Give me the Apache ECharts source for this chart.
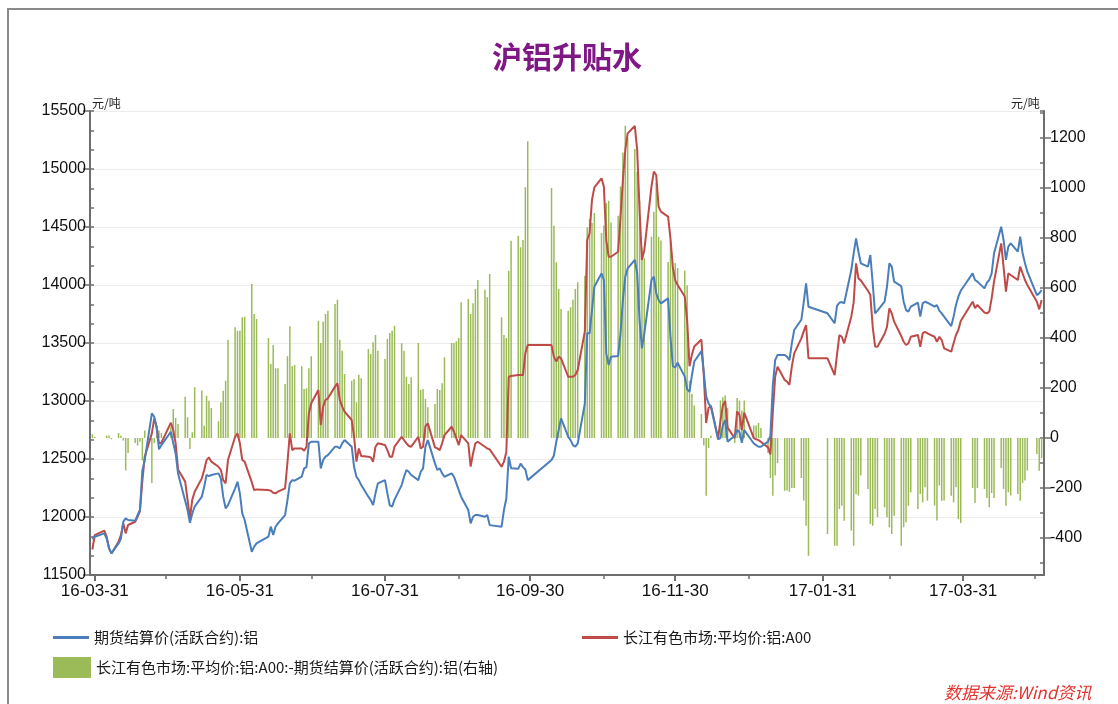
<!DOCTYPE html>
<html>
<head>
<meta charset="utf-8">
<title>沪铝升贴水</title>
<script src="https://cdn.jsdelivr.net/npm/echarts@6/dist/echarts.min.js"></script>
<style>
  html, body { margin: 0; padding: 0; background: #fff; }
  #main { width: 1118px; height: 704px; }
</style>
</head>
<body>
<div id="main"></div>
<script>
// 交易所休市日（工作日里不开盘的日子）
const holidays = [
  "2016-04-04", "2016-05-02", "2016-06-09", "2016-06-10", "2016-09-15", "2016-09-16",
  "2016-10-03", "2016-10-04", "2016-10-05", "2016-10-06", "2016-10-07",
  "2017-01-02", "2017-01-27", "2017-01-30", "2017-01-31", "2017-02-01", "2017-02-02",
  "2017-04-03", "2017-04-04", "2017-05-01"
];
const firstDay = [2016, 3, 31];
const lastDay = [2017, 5, 4];

// 期货结算价(活跃合约):铝 —— 每行一周
const futures = [
  11810, 11830,
  11859, 11815, 11730, 11686,
  11772, 11815, 11960, 11988, 11974,
  11968, 12017, 12060, 12400, 12490,
  12893, 12864, 12770, 12583, 12620,
  12735, 12635, 12549, 12376,
  12140, 12060, 11950, 12030, 12089,
  12175, 12261, 12362, 12353, 12362,
  12376, 12333, 12175, 12074, 12103,
  12247, 12304, 12204, 12031, 11974,
  11700, 11744, 11772,
  11830, 11917, 11844, 11916, 11945,
  12017, 12146, 12290, 12318, 12313,
  12347, 12419, 12430, 12635, 12649,
  12649, 12419, 12491, 12520, 12534,
  12606, 12606, 12592, 12635, 12663,
  12606, 12433, 12347, 12318, 12275,
  12175, 12146, 12103, 12204, 12290,
  12318, 12204, 12100, 12089, 12150,
  12275, 12347, 12405, 12390, 12362,
  12318, 12390, 12419, 12606, 12663,
  12462, 12405, 12419, 12376, 12347,
  12376, 12347, 12290, 12232, 12175,
  12060, 11945, 12002, 12017, 12017,
  12002, 12017, 11930,
  11916, 12060, 12160, 12520, 12420,
  12415, 12460, 12430, 12410, 12318,
  12491, 12530, 12649, 12750, 12850,
  12692, 12663, 12620, 12606, 12634,
  12980, 13583, 13583, 13784, 13985,
  14100, 14043, 13411, 13310, 13382,
  13388, 13583, 13871, 14072, 14143,
  14216, 14100, 13698, 13454, 13583,
  14043, 14072, 13928, 13871, 13842,
  13885, 13550, 13300, 13290, 13330,
  13210, 13100, 13080, 13220, 13340,
  13430, 13250, 13040, 12980, 12950,
  12670, 12680, 12790, 12835, 12650,
  12700, 12750, 12730, 12640, 12750,
  12634, 12620, 12606, 12606,
  12650, 12700, 13130, 13353, 13397,
  13397, 13382, 13353, 13497, 13612,
  13700, 13850, 14014, 13813,
  13756,
  13670, 13820, 13847, 13853, 13842,
  14129, 14273, 14402, 14287, 14187,
  14158, 14258, 14014, 13756, 13779,
  13856, 13985, 14187, 14158, 14029,
  13990, 13856, 13784, 13770, 13813,
  13847, 13727, 13842, 13856, 13847,
  13813, 13827, 13779, 13756, 13727,
  13646, 13727, 13827, 13899, 13950,
  14100, 14043, 14029,
  13971, 14020, 14043, 14100, 14273,
  14503, 14388, 14216, 14331, 14359,
  14287, 14417, 14273, 14187, 14115,
  13913, 13928, 13957
];

// 长江有色市场:平均价:铝:A00
const spot = [
  11720, 11844,
  11882, 11830, 11730, 11686,
  11787, 11844, 11945, 11859, 11931,
  11959, 12002, 12050, 12310, 12520,
  12721, 12850, 12780, 12635, 12640,
  12813, 12750, 12635, 12410,
  12305, 12150, 11990, 12150, 12218,
  12333, 12405, 12491, 12514, 12477,
  12433, 12405, 12318, 12290, 12491,
  12692, 12721, 12635, 12491, 12477,
  12300, 12232, 12238,
  12232, 12226, 12209, 12204, 12218,
  12247, 12470, 12721, 12577, 12591,
  12591, 12571, 12606, 12893, 12980,
  13095, 12793, 12951, 13009, 13023,
  13124, 13152, 13009, 12951, 12908,
  12836, 12692, 12477, 12591, 12525,
  12520, 12514, 12477, 12606, 12635,
  12620, 12577, 12520, 12520, 12606,
  12692, 12663, 12635, 12612, 12606,
  12692, 12590, 12606, 12784, 12807,
  12600, 12591, 12577, 12635, 12706,
  12778, 12735, 12678, 12620, 12706,
  12635, 12434, 12548, 12635, 12649,
  12606, 12591, 12583,
  12433, 12477, 12560, 13209, 13215,
  13224, 13224, 13224, 13411, 13482,
  13482, 13380, 13339, 13382, 13368,
  13209, 13209, 13209, 13224, 13267,
  13600, 14388, 14446, 14733, 14842,
  14920, 14848, 14388, 14244, 14244,
  14287, 14589, 14905, 15164, 15307,
  15371, 15164, 14646, 14216, 14302,
  14848, 14977, 14948, 14675, 14632,
  14589, 14400, 14150, 14040, 14000,
  13900, 13700, 13300, 13400, 13470,
  13530, 13220, 12810, 12940, 12960,
  12680, 12830, 12960, 13000, 12770,
  12680, 12910, 12880, 12750, 12900,
  12680, 12670, 12663, 12649,
  12600, 12540, 12900, 13210, 13296,
  13181, 13167, 13138, 13296, 13411,
  13540, 13600, 13655, 13368,
  13368,
  13224, 13400, 13569, 13554, 13497,
  13727, 13850, 14187, 14057, 14040,
  13950, 13913, 13640, 13470, 13468,
  13580, 13640, 13799, 13756, 13684,
  13560, 13511, 13483, 13497, 13554,
  13569, 13468, 13583, 13597, 13583,
  13554, 13511, 13554, 13526, 13454,
  13425, 13497, 13569, 13612, 13690,
  13856, 13800, 13828,
  13762, 13756, 13770, 13885, 14029,
  14359, 14158, 13942, 14100, 14086,
  14043, 14158, 14100, 14043, 13999,
  13856, 13790, 13870
];

// 长江有色市场:平均价:铝:A00 - 期货结算价(活跃合约):铝（右轴）
const spread = [
  15, 5,
  0, 10, 10, -5,
  20, 10, -10, -130, -60,
  -20, -30, -15, -90, 30,
  -180, -20, 10, 30, 20,
  45, 116, 80, 56,
  165, 83, -44, 23, 203,
  190, 49, 169, 149, 120,
  67, 143, 189, 229, 392,
  443, 429, 429, 483, 485,
  616, 496, 476,
  400, 296, 372, 279, 279,
  216, 327, 447, 287, 292,
  287, 196, 199, 279, 327,
  469, 380, 465, 496, 509,
  536, 553, 393, 349, 256,
  229, 236, 143, 253, 239,
  356, 336, 383, 412, 349,
  316, 396, 420, 429, 449,
  379, 349, 245, 216, 243,
  380, 192, 196, 156, 123,
  136, 196, 192, 219, 323,
  380, 380, 387, 400, 543,
  556, 496, 539, 596, 632,
  593, 563, 656,
  483, 412, 400, 669, 789,
  809, 763, 792, 1003, 1187,
  1000, 849, 703, 596, 516,
  509, 523, 553, 596, 623,
  649, 843, 876, 860, 900,
  820, 850, 940, 949, 862,
  889, 1006, 1142, 1249, 1200,
  1156, 1064, 948, 762, 719,
  805, 905, 1020, 804, 790,
  704, 790, 680, 700, 680,
  670, 610, 229, 176, 130,
  96, -30, -231, -40, 10,
  10, 150, 163, 170, 120,
  -20, 160, 150, 110, 150,
  50, 50, 60, 40,
  -60, -160, -231, -150, -100,
  -211, -210, -215, -200, -200,
  -160, -250, -351, -471,
  -384,
  -431, -431, -284, -271, -331,
  -371, -431, -224, -230, -150,
  -204, -344, -351, -284, -317,
  -277, -317, -357, -384, -311,
  -431, -357, -337, -271, -217,
  -284, -224, -257, -197, -251,
  -270, -330, -190, -251, -250,
  -231, -257, -197, -324, -340,
  -200, -260, -200,
  -204, -240, -277, -220, -240,
  -120, -204, -271, -217, -230,
  -224, -251, -180, -170, -130,
  -64, -131, -80
];

// 横轴标签（月末），以及所有月末刻度
const tickLabels = ["16-03-31", "16-05-31", "16-07-31", "16-09-30", "16-11-30", "17-01-31", "17-03-31"];
const monthEnds = [
  "16-03-31", "16-04-30", "16-05-31", "16-06-30", "16-07-31", "16-08-31", "16-09-30",
  "16-10-31", "16-11-30", "16-12-31", "17-01-31", "17-02-28", "17-03-31", "17-04-30"
];

const pad = n => (n < 10 ? "0" : "") + n;
const fmt = d => d.getFullYear() + "-" + pad(d.getMonth() + 1) + "-" + pad(d.getDate());

// 交易日序列（时间戳）
const tradeDays = [];
for (let d = new Date(firstDay[0], firstDay[1] - 1, firstDay[2]);
     d <= new Date(lastDay[0], lastDay[1] - 1, lastDay[2]);
     d.setDate(d.getDate() + 1)) {
  if (d.getDay() === 0 || d.getDay() === 6 || holidays.indexOf(fmt(d)) >= 0) continue;
  tradeDays.push(d.getTime());
}

// 刻度画在月末这一天的末尾
const tickTime = s => {
  const [y, m, d] = s.split("-").map(Number);
  return new Date(2000 + y, m - 1, d + 1).getTime();
};
const labelMap = {};
tickLabels.forEach(s => { labelMap[tickTime(s)] = s; });

const xMin = new Date(2016, 2, 30).getTime();
const xMax = new Date(2017, 4, 5).getTime();

const pairs = arr => tradeDays.map((t, i) => [t, arr[i] === undefined ? null : arr[i]]);

const NAME_F = "期货结算价(活跃合约):铝";
const NAME_S = "长江有色市场:平均价:铝:A00";
const NAME_D = "长江有色市场:平均价:铝:A00:-期货结算价(活跃合约):铝(右轴)";

const axisGray = "#6e6e6e";
const textFont = "'Liberation Sans', Arial, sans-serif";
const cjkFont = "'Noto Sans CJK SC', sans-serif";
const plain = v => String(v);

const chart = echarts.init(document.getElementById("main"));

chart.setOption({
  animation: false,
  backgroundColor: "#fff",
  grid: { left: 90, right: 74, top: 111, bottom: 129 },
  legend: [
    {
      data: [NAME_F], left: 48, top: 625, icon: "rect", itemWidth: 36, itemHeight: 3,
      selectedMode: false, textStyle: { fontSize: 15, color: "#1a1a1a", fontFamily: cjkFont }
    },
    {
      data: [NAME_S], left: 577, top: 625, icon: "rect", itemWidth: 36, itemHeight: 3,
      selectedMode: false, textStyle: { fontSize: 15, color: "#1a1a1a", fontFamily: cjkFont }
    },
    {
      data: [NAME_D], left: 48, top: 652, icon: "rect", itemWidth: 38, itemHeight: 21,
      selectedMode: false, textStyle: { fontSize: 15, color: "#1a1a1a", fontFamily: cjkFont }
    }
  ],
  xAxis: [
    {
      type: "value",
      position: "bottom",
      min: xMin,
      max: xMax,
      axisLine: { onZero: false, lineStyle: { color: axisGray, width: 2 } },
      axisTick: { customValues: tickLabels.map(tickTime), length: 6, lineStyle: { color: axisGray, width: 2 } },
      axisLabel: {
        customValues: tickLabels.map(tickTime),
        formatter: v => labelMap[v] || "",
        fontSize: 17, color: "#111", fontFamily: textFont, margin: 8
      },
      splitLine: { show: false }
    },
    {
      // 每个月末的短刻度
      type: "value",
      position: "bottom",
      min: xMin,
      max: xMax,
      axisLine: { show: false, onZero: false },
      axisTick: { customValues: monthEnds.map(tickTime), length: 4, lineStyle: { color: axisGray, width: 1.5 } },
      axisLabel: { show: false },
      splitLine: { show: false }
    }
  ],
  yAxis: [
    {
      type: "value",
      position: "left",
      min: 11500,
      max: 15500,
      interval: 500,
      axisLine: { show: true, onZero: false, lineStyle: { color: axisGray, width: 2 } },
      axisTick: { show: true, length: 7, lineStyle: { color: axisGray, width: 1.5 } },
      axisLabel: { fontSize: 16, color: "#111", fontFamily: textFont, margin: 4, formatter: plain },
      splitLine: { show: true, lineStyle: { color: "#ececec", width: 1 } }
    },
    {
      type: "value",
      position: "right",
      min: -548,
      max: 1308,
      splitNumber: 9,
      axisLine: { show: true, onZero: false, lineStyle: { color: axisGray, width: 2 } },
      axisTick: { show: true, length: 7, lineStyle: { color: axisGray, width: 1.5 } },
      axisLabel: {
        fontSize: 16, color: "#111", fontFamily: textFont, margin: 6,
        showMinLabel: false, showMaxLabel: false, formatter: plain
      },
      splitLine: { show: false }
    },
    {
      // 左轴内侧小刻度
      type: "value",
      position: "left",
      min: 11500,
      max: 15500,
      interval: 500 / 3,
      axisLine: { show: false, onZero: false },
      axisTick: { show: true, inside: true, length: 4, lineStyle: { color: axisGray, width: 1.5 } },
      axisLabel: { show: false },
      splitLine: { show: false }
    },
    {
      // 右轴内侧小刻度
      type: "value",
      position: "right",
      min: -548,
      max: 1308,
      splitNumber: 18,
      axisLine: { show: false, onZero: false },
      axisTick: { show: true, inside: true, length: 4, lineStyle: { color: axisGray, width: 1.5 } },
      axisLabel: { show: false },
      splitLine: { show: false }
    }
  ],
  series: [
    {
      name: NAME_D,
      type: "bar",
      yAxisIndex: 1,
      barWidth: 1.5,
      itemStyle: { color: "#9bbb59" },
      data: pairs(spread),
      z: 1
    },
    {
      name: NAME_F,
      type: "line",
      yAxisIndex: 0,
      showSymbol: false,
      connectNulls: true,
      lineStyle: { color: "#4a7ebb", width: 2 },
      itemStyle: { color: "#4a7ebb" },
      data: pairs(futures),
      z: 3
    },
    {
      name: NAME_S,
      type: "line",
      yAxisIndex: 0,
      showSymbol: false,
      connectNulls: true,
      lineStyle: { color: "#be4b48", width: 2 },
      itemStyle: { color: "#be4b48" },
      data: pairs(spot),
      z: 2
    }
  ],
  graphic: [
    {
      type: "rect",
      shape: { x: 8, y: 9, width: 1300, height: 900 },
      style: { fill: null, stroke: "#8a8a8a", lineWidth: 2 },
      silent: true
    },
    {
      type: "text",
      x: 567, y: 57,
      style: {
        text: "沪铝升贴水", fill: "#7f1784", font: "bold 30px 'Noto Sans CJK SC'",
        textAlign: "center", textVerticalAlign: "middle"
      }
    },
    {
      type: "text", x: 92, y: 97,
      style: { text: "元/吨", fill: "#222", font: "12px 'Noto Sans CJK SC'" }
    },
    {
      type: "text", x: 1011, y: 97,
      style: { text: "元/吨", fill: "#222", font: "12px 'Noto Sans CJK SC'" }
    },
    {
      type: "text", x: 944, y: 684,
      style: { text: "数据来源:Wind资讯", fill: "#e3322f", font: "italic 17px 'Noto Sans CJK SC'" }
    }
  ]
});
</script>
</body>
</html>
